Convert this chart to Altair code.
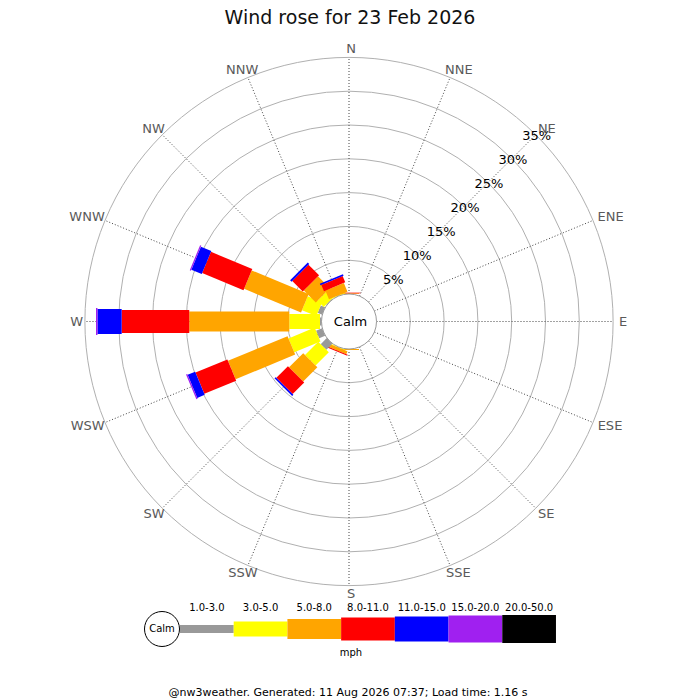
import math
import altair as alt
import pandas as pd

# ---------------- data ----------------
directions = ["N", "NNE", "NE", "ENE", "E", "ESE", "SE", "SSE",
              "S", "SSW", "SW", "WSW", "W", "WNW", "NW", "NNW"]
speed_ranges = ["1.0-3.0", "3.0-5.0", "5.0-8.0", "8.0-11.0",
                "11.0-15.0", "15.0-20.0", "20.0-50.0"]
range_colors = ["#999999", "#ffff00", "#ffa500", "#ff0000",
                "#0000ff", "#a020f0", "#000000"]
range_widths = [8, 15, 20, 23, 25, 27, 28]

# percent of time, per direction (N, NNE, ... NNW) for each speed range
pct_1_3 = [0, 0, 0, 0, 0, 0, 0, 0, 0, 0, 1.26, 0.96, 0.22, 0.70, 0.10, 0]
pct_3_5 = [0, 0, 0, 0, 0, 0, 0, 0, 0, 0.10, 2.77, 4.20, 4.54, 2.30, 1.30, 0.10]
pct_5_8 = [0.10, 0, 0, 0, 0, 0, 0, 0, 0.15, 0.45, 2.97, 9.54, 14.80, 9.12, 2.50, 1.40]
pct_8_11 = [0.10, 0, 0, 0, 0, 0, 0, 0, 0, 0.15, 2.42, 5.10, 10.00, 6.62, 2.20, 1.00]
pct_11_15 = [0, 0, 0, 0, 0, 0, 0, 0, 0, 0, 0.25, 1.20, 3.58, 1.67, 0.30, 0.25]
pct_15_20 = [0, 0, 0, 0, 0, 0, 0, 0, 0, 0, 0, 0.20, 0.22, 0.19, 0, 0]
pct_20_50 = [0, 0, 0, 0, 0, 0, 0, 0, 0, 0, 0, 0, 0, 0, 0, 0]
ring_pcts = [5, 10, 15, 20, 25, 30, 35]

title_text = "Wind rose for 23 Feb 2026"
footer_text = "@nw3weather. Generated: 11 Aug 2026 07:37; Load time: 1.16 s"
unit_text = "mph"
calm_text = "Calm"

# ---------------- geometry ----------------
CALM_R = 27.5
PX_PER_PCT = 6.76
MAX_PCT = 35
W, H = 684, 690
XMIN = -341
YMAX = 313.5
xs = alt.Scale(domain=[XMIN, XMIN + W], nice=False, zero=False)
ys = alt.Scale(domain=[YMAX - H, YMAX], nice=False, zero=False)
FONT = "DejaVu Sans"

series = [pct_1_3, pct_3_5, pct_5_8, pct_8_11, pct_11_15, pct_15_20, pct_20_50]

rows = []
for d, name in enumerate(directions):
    cum = 0.0
    for k, vals in enumerate(series):
        v = vals[d]
        if v > 0:
            rows.append(dict(dir=name, angle=d * 22.5, p0=cum, p1=cum + v,
                             color=range_colors[k], width=range_widths[k]))
        cum += v
petals = pd.DataFrame(rows)

ang = "datum.angle*PI/180"
rad = lambda f: f"({CALM_R} + {PX_PER_PCT}*datum.{f})"

X = lambda f: alt.X(f"{f}:Q", scale=xs, axis=None)
Y = lambda f: alt.Y(f"{f}:Q", scale=ys, axis=None)

# rings
rings_df = pd.DataFrame({"p": ring_pcts})
rings = alt.Chart(rings_df).transform_calculate(
    d=f"2*{rad('p')}", x0="0", y0="0"
).transform_calculate(s="datum.d*datum.d").mark_point(
    shape="circle", filled=False, stroke="#b0b0b0", strokeWidth=1, opacity=1
).encode(x=X("x0"), y=Y("y0"), size=alt.Size("s:Q", scale=None))

# radial dotted lines
spokes_df = pd.DataFrame({"angle": [i * 22.5 for i in range(16)]})
spokes = alt.Chart(spokes_df).transform_calculate(
    xa=f"{CALM_R}*sin({ang})", ya=f"{CALM_R}*cos({ang})",
    xb=f"{CALM_R + PX_PER_PCT * MAX_PCT}*sin({ang})",
    yb=f"{CALM_R + PX_PER_PCT * MAX_PCT}*cos({ang})",
).mark_rule(color="#444444", strokeWidth=1, strokeDash=[1, 2]).encode(
    x=X("xa"), y=Y("ya"), x2="xb:Q", y2="yb:Q")

# petals
legs = alt.Chart(petals).transform_calculate(
    xa=f"{rad('p0')}*sin({ang})", ya=f"{rad('p0')}*cos({ang})",
    xb=f"{rad('p1')}*sin({ang})", yb=f"{rad('p1')}*cos({ang})",
).mark_rule(strokeCap="butt").encode(
    x=X("xa"), y=Y("ya"), x2="xb:Q", y2="yb:Q",
    color=alt.Color("color:N", scale=None),
    size=alt.Size("width:Q", scale=None))

# calm circle
calm_df = pd.DataFrame({"x": [0], "y": [0], "t": [calm_text]})
calm_circle = alt.Chart(calm_df).mark_point(
    shape="circle", filled=True, fill="white", stroke="#999999",
    strokeWidth=1, opacity=1, size=(2 * CALM_R) ** 2
).encode(x=X("x"), y=Y("y"))
calm_label = alt.Chart(calm_df).mark_text(
    font=FONT, fontSize=13, color="black", align="center", baseline="middle",
    dx=1.5
).encode(x=X("x"), y=Y("y"), text="t:N")

# direction labels placed just outside the grid, offset by half their box
char_w = {"N": 0.748, "E": 0.632, "S": 0.635, "W": 0.989}
LAB_R = 268
LAB_HH = 4.7
LAB_DX = 2
lab_rows = []
for i, name in enumerate(directions):
    a = math.radians(i * 22.5)
    hw = sum(char_w[c] for c in name) * 13 / 2
    lab_rows.append(dict(name=name,
                         x=LAB_DX + (LAB_R + 0) * math.sin(a) + hw * math.sin(a),
                         y=LAB_R * math.cos(a) + LAB_HH * math.cos(a)))
dir_labels = alt.Chart(pd.DataFrame(lab_rows)).mark_text(
    font=FONT, fontSize=13, color="#5a5a5a", align="center",
    baseline="middle").encode(x=X("x"), y=Y("y"), text="name:N")

# percentage labels along NE
pct_df = pd.DataFrame({"p": ring_pcts, "t": [f"{p}%" for p in ring_pcts]})
pct_labels = alt.Chart(pct_df).transform_calculate(
    x=f"{rad('p')}*sin(PI/4)", y=f"{rad('p')}*cos(PI/4)"
).mark_text(font=FONT, fontSize=13, color="black", align="center",
            baseline="middle", dx=1, dy=1.5).encode(x=X("x"), y=Y("y"), text="t:N")

# title and footer
title_df = pd.DataFrame({"x": [1], "y": [303.5], "t": [title_text]})
title = alt.Chart(title_df).mark_text(
    font=FONT, fontSize=19, color="#111111", align="center", baseline="middle"
).encode(x=X("x"), y=Y("y"), text="t:N")
footer_df = pd.DataFrame({"x": [-1], "y": [-371], "t": [footer_text]})
footer = alt.Chart(footer_df).mark_text(
    font=FONT, fontSize=11, color="black", align="center", baseline="middle"
).encode(x=X("x"), y=Y("y"), text="t:N")

# legend
LEG_X0 = -169
LEG_SEG = 53.71
LEG_Y = -307.5
leg_df = pd.DataFrame({
    "label": speed_ranges,
    "color": range_colors,
    "width": range_widths,
    "xa": [LEG_X0 + i * LEG_SEG for i in range(7)],
    "xb": [LEG_X0 + (i + 1) * LEG_SEG for i in range(7)],
    "xc": [LEG_X0 + (i + 0.5) * LEG_SEG for i in range(7)],
    "y": [LEG_Y] * 7,
    "yl": [LEG_Y + 21.5] * 7,
})
leg_bars = alt.Chart(leg_df).mark_rule(strokeCap="butt").encode(
    x=X("xa"), x2="xb:Q", y=Y("y"),
    color=alt.Color("color:N", scale=None),
    size=alt.Size("width:Q", scale=None))
leg_labels = alt.Chart(leg_df).mark_text(
    font=FONT, fontSize=10, color="black", align="center", baseline="middle"
).encode(x=X("xc"), y=Y("yl"), text="label:N")
leg_calm_df = pd.DataFrame({"x": [-187], "y": [LEG_Y], "t": [calm_text]})
leg_calm_circle = alt.Chart(leg_calm_df).mark_point(
    shape="circle", filled=True, fill="white", stroke="black",
    strokeWidth=1, opacity=1, size=35 ** 2
).encode(x=X("x"), y=Y("y"))
leg_calm_text = alt.Chart(leg_calm_df).mark_text(
    font=FONT, fontSize=10, color="black", align="center", baseline="middle"
).encode(x=X("x"), y=Y("y"), text="t:N")
unit_df = pd.DataFrame({"x": [2], "y": [-331.5], "t": [unit_text]})
unit_label = alt.Chart(unit_df).mark_text(
    font=FONT, fontSize=10, color="black", align="center", baseline="middle"
).encode(x=X("x"), y=Y("y"), text="t:N")

chart = alt.layer(
    rings, spokes, legs, calm_circle, calm_label, dir_labels, pct_labels,
    title, footer, leg_bars, leg_calm_circle, leg_calm_text, leg_labels,
    unit_label
).properties(
    width=W, height=H, padding=0, autosize="none",
    background="white"
).configure_view(stroke=None)

chart.save("out.html", embed_options={"renderer": "svg", "actions": False})
